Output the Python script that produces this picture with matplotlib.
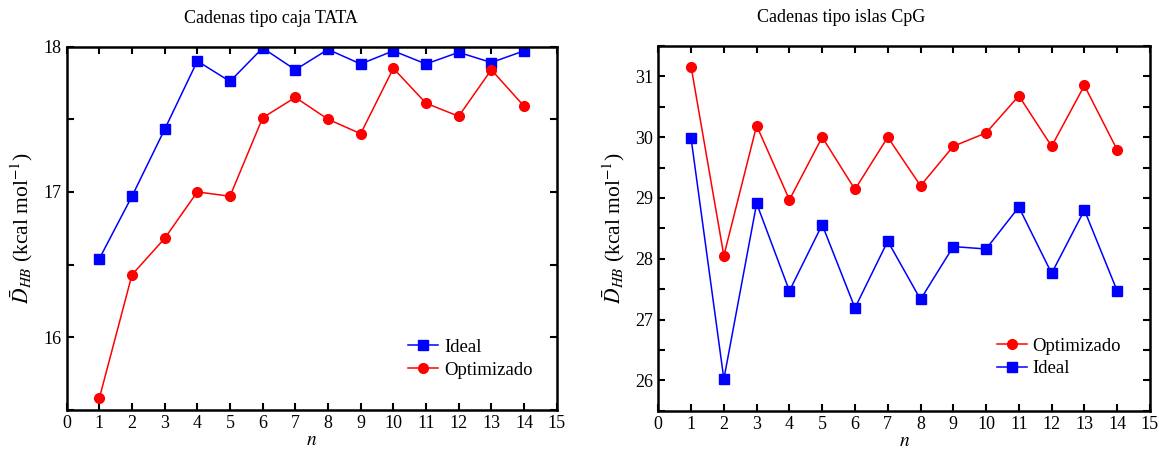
import matplotlib
matplotlib.use('Agg')
import matplotlib.pyplot as plt
from matplotlib.ticker import MultipleLocator

plt.rcParams['font.family'] = ['Liberation Serif', 'DejaVu Serif']
plt.rcParams['mathtext.fontset'] = 'stix'

n = list(range(1, 15))

# Cadenas tipo caja TATA
tata_ideal = [16.54, 16.97, 17.43, 17.90, 17.76, 17.99, 17.84,
              17.98, 17.88, 17.97, 17.88, 17.96, 17.89, 17.97]
tata_opt = [15.58, 16.43, 16.68, 17.00, 16.97, 17.51, 17.65,
            17.50, 17.40, 17.85, 17.61, 17.52, 17.84, 17.59]

# Cadenas tipo islas CpG
cpg_ideal = [29.98, 26.02, 28.91, 27.47, 28.56, 27.19, 28.29,
             27.33, 28.20, 28.16, 28.85, 27.76, 28.80, 27.47]
cpg_opt = [31.16, 28.05, 30.19, 28.97, 30.00, 29.14, 30.00,
           29.20, 29.85, 30.07, 30.68, 29.85, 30.85, 29.79]

fig = plt.figure(figsize=(11.59, 4.49), dpi=100)
ax1 = fig.add_axes([0.0575, 0.0869, 0.4228, 0.8095])
ax2 = fig.add_axes([0.568, 0.0853, 0.4242, 0.8123])

ylabel = r'$\bar{D}_{HB}$ (kcal mol$^{-1}$)'

# left panel
ax1.plot(n, tata_ideal, color='blue', marker='s', markersize=7, lw=1.1, label='Ideal')
ax1.plot(n, tata_opt, color='red', marker='o', markersize=7, lw=1.1, label='Optimizado')
ax1.set_ylim(15.5, 18)
ax1.yaxis.set_major_locator(MultipleLocator(1))
ax1.yaxis.set_minor_locator(MultipleLocator(0.5))
ax1.set_title('Cadenas tipo caja TATA', fontsize=13, x=0.417, y=1.0, pad=17)
ax1.legend(loc='lower right', bbox_to_anchor=(0.985, 0.04), frameon=False,
           fontsize=13.5, handlelength=1.6, handletextpad=0.3,
           labelspacing=0.3)

# right panel
ax2.plot(n, cpg_opt, color='red', marker='o', markersize=7, lw=1.1, label='Optimizado')
ax2.plot(n, cpg_ideal, color='blue', marker='s', markersize=7, lw=1.1, label='Ideal')
ax2.set_ylim(25.5, 31.5)
ax2.yaxis.set_major_locator(MultipleLocator(1))
ax2.yaxis.set_minor_locator(MultipleLocator(0.5))
ax2.set_title('Cadenas tipo islas CpG', fontsize=13, x=0.372, y=1.0, pad=17)
ax2.legend(loc='lower right', bbox_to_anchor=(0.975, 0.045), frameon=False,
           fontsize=13.5, handlelength=1.6, handletextpad=0.3,
           labelspacing=0.3)

for ax in (ax1, ax2):
    ax.set_xlim(0, 15)
    ax.set_xticks(range(0, 16))
    ax.set_xlabel('$n$', fontsize=14, labelpad=0)
    ax.set_ylabel(ylabel, fontsize=15.5, labelpad=6)
    for s in ax.spines.values():
        s.set_linewidth(1.8)
    ax.tick_params(which='both', direction='in', top=True, right=True,
                   length=5, width=1.5, labelsize=13)
    ax.tick_params(axis='x', which='minor', top=False, bottom=False)

fig.savefig('out.png', dpi=100)
